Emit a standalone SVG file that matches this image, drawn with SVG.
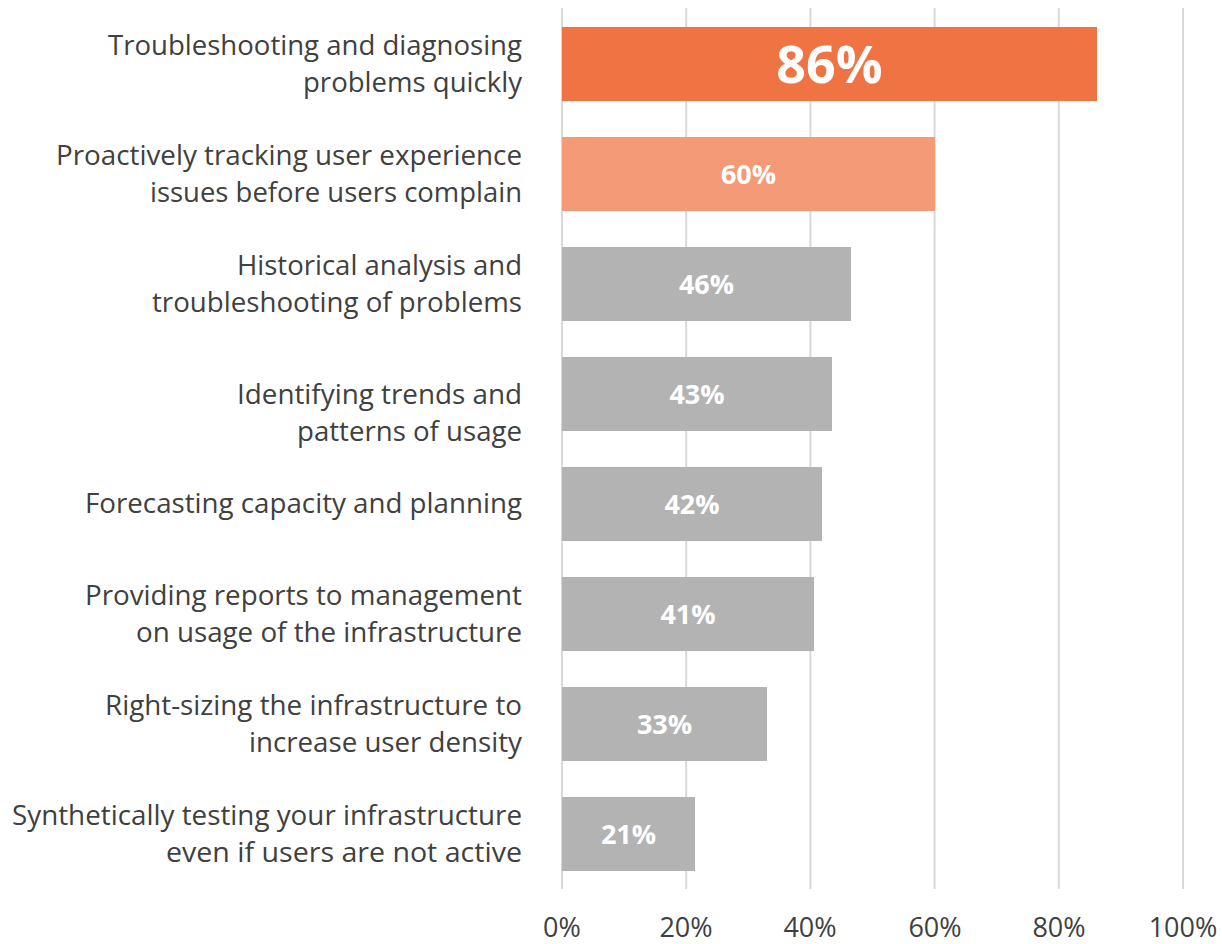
<svg xmlns="http://www.w3.org/2000/svg" width="1222" height="944" viewBox="0 0 1222 944">
<style>
.grid{stroke:#d9d9d9;stroke-width:2}
.cat{font-family:"Open Sans","Liberation Sans",sans-serif;font-size:27px;fill:#404040;text-anchor:end}
.ax{font-family:"Open Sans","Liberation Sans",sans-serif;font-size:27px;fill:#404040;text-anchor:middle}
.val{font-family:"Open Sans","Liberation Sans",sans-serif;font-size:27px;font-weight:bold;fill:#ffffff;text-anchor:middle}
.big{font-size:52px}
.o1{fill:#f07343}.o2{fill:#f59a76}.g{fill:#b3b3b3}
</style>
<rect width="1222" height="944" fill="#ffffff"/>
<g id="gridlines">
<line class="grid" x1="562" y1="8" x2="562" y2="889"/>
<line class="grid" x1="686.2" y1="8" x2="686.2" y2="889"/>
<line class="grid" x1="810.4" y1="8" x2="810.4" y2="889"/>
<line class="grid" x1="934.6" y1="8" x2="934.6" y2="889"/>
<line class="grid" x1="1058.8" y1="8" x2="1058.8" y2="889"/>
<line class="grid" x1="1183" y1="8" x2="1183" y2="889"/>
</g>
<g id="axis-labels">
<text class="ax" x="562" y="937">0%</text>
<text class="ax" x="686" y="937">20%</text>
<text class="ax" x="810" y="937">40%</text>
<text class="ax" x="935" y="937">60%</text>
<text class="ax" x="1059" y="937">80%</text>
<text class="ax" x="1183" y="937">100%</text>
</g>
<g id="bar1">
<rect class="o1" x="562" y="27" width="535" height="74"/>
<text class="val big" x="829.5" y="83">86%</text>
<text class="cat" x="522" y="55" textLength="414" lengthAdjust="spacingAndGlyphs">Troubleshooting and diagnosing</text>
<text class="cat" x="522" y="92" textLength="219" lengthAdjust="spacingAndGlyphs">problems quickly</text>
</g>
<g id="bar2">
<rect class="o2" x="562" y="137" width="373" height="74"/>
<text class="val" x="748.5" y="184">60%</text>
<text class="cat" x="522" y="165" textLength="466" lengthAdjust="spacingAndGlyphs">Proactively tracking user experience</text>
<text class="cat" x="522" y="202" textLength="372" lengthAdjust="spacingAndGlyphs">issues before users complain</text>
</g>
<g id="bar3">
<rect class="g" x="562" y="247" width="289" height="74"/>
<text class="val" x="706.5" y="294">46%</text>
<text class="cat" x="522" y="275" textLength="285" lengthAdjust="spacingAndGlyphs">Historical analysis and</text>
<text class="cat" x="522" y="312" textLength="370" lengthAdjust="spacingAndGlyphs">troubleshooting of problems</text>
</g>
<g id="bar4">
<rect class="g" x="562" y="357" width="270" height="74"/>
<text class="val" x="697" y="404">43%</text>
<text class="cat" x="522" y="404" textLength="285" lengthAdjust="spacingAndGlyphs">Identifying trends and</text>
<text class="cat" x="522" y="441" textLength="225" lengthAdjust="spacingAndGlyphs">patterns of usage</text>
</g>
<g id="bar5">
<rect class="g" x="562" y="467" width="260" height="74"/>
<text class="val" x="692" y="514">42%</text>
<text class="cat" x="522" y="513" textLength="437" lengthAdjust="spacingAndGlyphs">Forecasting capacity and planning</text>
</g>
<g id="bar6">
<rect class="g" x="562" y="577" width="252" height="74"/>
<text class="val" x="688" y="624">41%</text>
<text class="cat" x="522" y="605" textLength="437" lengthAdjust="spacingAndGlyphs">Providing reports to management</text>
<text class="cat" x="522" y="642" textLength="386" lengthAdjust="spacingAndGlyphs">on usage of the infrastructure</text>
</g>
<g id="bar7">
<rect class="g" x="562" y="687" width="205" height="74"/>
<text class="val" x="664.5" y="734">33%</text>
<text class="cat" x="522" y="715" textLength="417" lengthAdjust="spacingAndGlyphs">Right-sizing the infrastructure to</text>
<text class="cat" x="522" y="752" textLength="273" lengthAdjust="spacingAndGlyphs">increase user density</text>
</g>
<g id="bar8">
<rect class="g" x="562" y="797" width="133" height="74"/>
<text class="val" x="628.5" y="844">21%</text>
<text class="cat" x="522" y="825" textLength="510" lengthAdjust="spacingAndGlyphs">Synthetically testing your infrastructure</text>
<text class="cat" x="522" y="862" textLength="356" lengthAdjust="spacingAndGlyphs">even if users are not active</text>
</g>
</svg>
